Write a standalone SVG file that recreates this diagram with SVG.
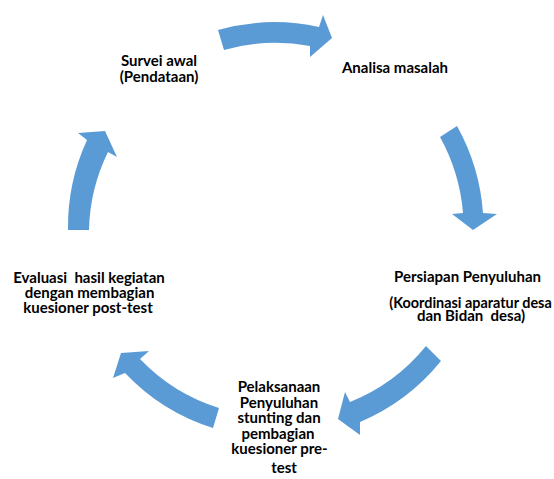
<svg xmlns="http://www.w3.org/2000/svg" width="554" height="479" viewBox="0 0 554 479">
  <style>
    .lbl { font-family: Lato, "Open Sans", "Liberation Sans", sans-serif; font-weight: bold; font-size: 15px; fill: #000; text-anchor: middle; white-space: pre; }
    .sm { font-size: 14.4px; }
    .arr { fill: #5B9BD5; stroke: none; }
  </style>
  <rect width="554" height="479" fill="#fff"/>
  <g id="connectors">
    <path class="arr" d="M218,30 A209 209 0 0 1 319,27 L323,15 L332,38 L310,57 L310,46 A188 188 0 0 0 224,50 Z"/>
    <path class="arr" d="M457,126 A209 209 0 0 1 483,213 L497,214 L473,230 L452,214 L463,213 A189 189 0 0 0 440,137 Z"/>
    <path class="arr" d="M441,361 A209 209 0 0 1 360,422 L360,435 L338,419 L345,392 L350,402 A188 188 0 0 0 426,346 Z"/>
    <path class="arr" d="M219,408 A186 186 0 0 1 140,359 L149,351 L121,353 L113,378 L125,373 A206 206 0 0 0 213,428 Z"/>
    <path class="arr" d="M68,230 A208 208 0 0 1 87,140 L78,133 L105,131 L117,157 L108,152 A186 186 0 0 0 89,230 Z"/>
  </g>
  <g id="survei">
    <text class="lbl" x="159" y="66">Survei awal</text>
    <text class="lbl" x="159" y="81.5">(Pendataan)</text>
  </g>
  <g id="analisa">
    <text class="lbl" x="395" y="73">Analisa masalah</text>
  </g>
  <g id="persiapan">
    <text class="lbl" x="467.5" y="282">Persiapan Penyuluhan</text>
    <text class="lbl sm" x="470.5" y="308">(Koordinasi aparatur desa</text>
    <text class="lbl" x="471" y="321">dan Bidan  desa)</text>
  </g>
  <g id="pelaksanaan">
    <text class="lbl" x="279" y="392">Pelaksanaan</text>
    <text class="lbl" x="279" y="407.5">Penyuluhan</text>
    <text class="lbl" x="279" y="423">stunting dan</text>
    <text class="lbl" x="278" y="438.5">pembagian</text>
    <text class="lbl" x="279.5" y="454">kuesioner pre-</text>
    <text class="lbl" x="284" y="473">test</text>
  </g>
  <g id="evaluasi">
    <text class="lbl" x="89" y="283">Evaluasi  hasil kegiatan</text>
    <text class="lbl" x="89.5" y="298">dengan membagian</text>
    <text class="lbl" x="88" y="313">kuesioner post-test</text>
  </g>
</svg>
